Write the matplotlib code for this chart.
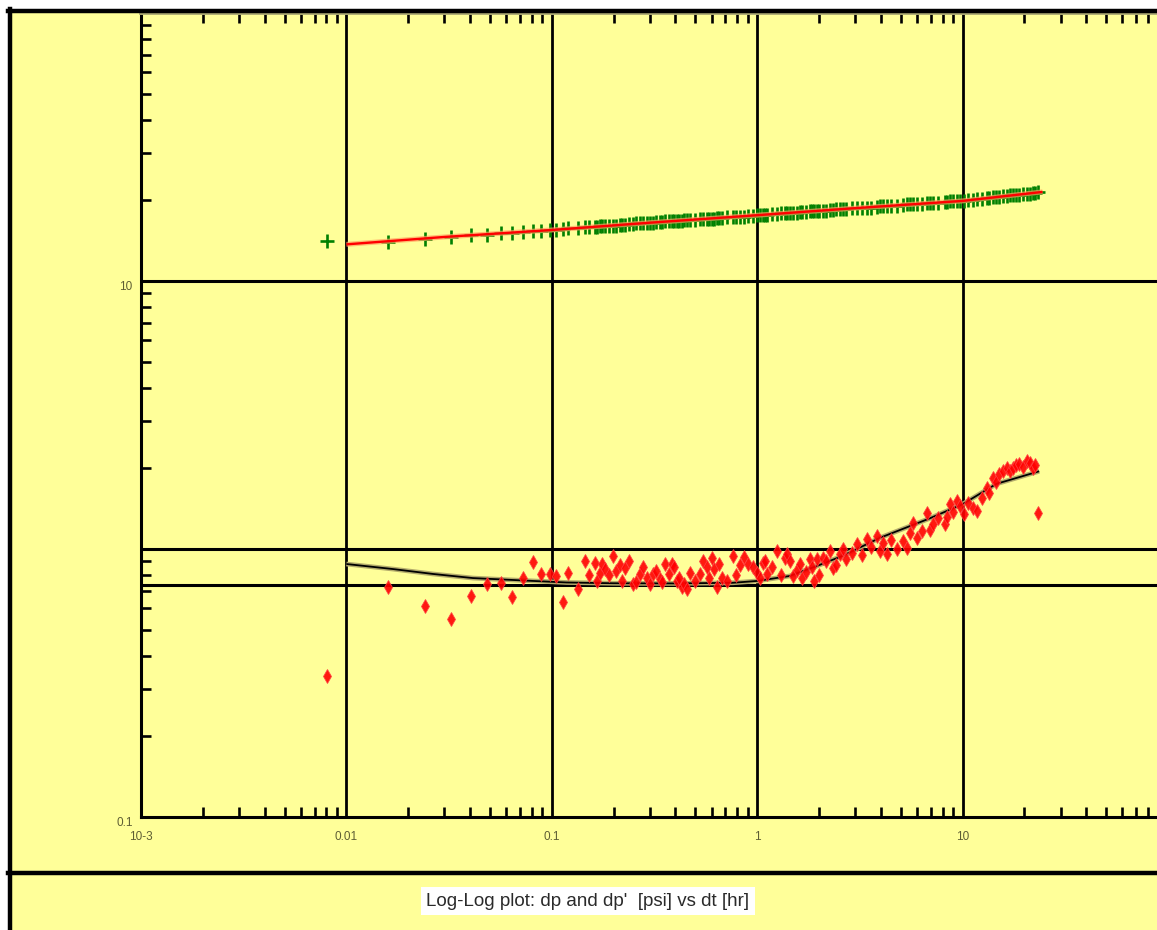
import matplotlib
matplotlib.use("Agg")
import matplotlib.pyplot as plt
from matplotlib.lines import Line2D
from matplotlib.patches import Rectangle
from matplotlib.ticker import NullFormatter

# ---- data -------------------------------------------------------------
# elapsed time dt [hr] shared by the pressure change and its derivative
dt = [0.00804, 0.0159, 0.0241, 0.0323, 0.0404, 0.0483, 0.0565, 0.0638, 0.0723,
      0.0809, 0.0883, 0.0977, 0.1045, 0.113, 0.120, 0.134, 0.145, 0.152, 0.162,
      0.166, 0.171, 0.176, 0.181, 0.190, 0.198, 0.205, 0.214, 0.220, 0.226,
      0.237, 0.248, 0.258, 0.268, 0.279, 0.290, 0.300, 0.310, 0.322, 0.336,
      0.345, 0.355, 0.370, 0.384, 0.395, 0.406, 0.418, 0.429, 0.442, 0.454,
      0.470, 0.496, 0.525, 0.545, 0.568, 0.585, 0.601, 0.618, 0.636, 0.655,
      0.671, 0.715, 0.760, 0.790, 0.822, 0.860, 0.900, 0.950, 0.995, 1.03,
      1.064, 1.09, 1.112, 1.18, 1.244, 1.30, 1.36, 1.40, 1.44, 1.50, 1.56,
      1.61, 1.66, 1.73, 1.80, 1.85, 1.90, 1.95, 2.01, 2.08, 2.16, 2.25, 2.33,
      2.42, 2.52, 2.61, 2.72, 2.90, 3.05, 3.23, 3.41, 3.60, 3.82, 3.95, 4.10,
      4.27, 4.50, 4.80, 5.11, 5.34, 5.55, 5.71, 6.00, 6.31, 6.68, 6.95, 7.15,
      7.60, 8.17, 8.40, 8.65, 9.00, 9.35, 9.70, 10.2, 10.6, 11.2, 11.7, 12.4,
      13.1, 13.5, 14.0, 14.5, 15.1, 15.7, 16.4, 17.0, 17.5, 18.2, 18.9, 19.6,
      20.5, 21.2, 21.9, 22.5, 23.2]

# pressure change dp [psi]
dp = [14.1, 14.0, 14.4, 14.6, 14.8, 14.9, 15.1, 15.1, 15.2,
      15.4, 15.4, 15.5, 15.5, 15.6, 15.7, 15.7, 15.9, 15.9, 15.9,
      15.9, 16.0, 16.0, 16.0, 16.1, 16.1, 16.1, 16.2, 16.2, 16.2,
      16.3, 16.3, 16.4, 16.4, 16.4, 16.5, 16.5, 16.5, 16.6, 16.6,
      16.6, 16.7, 16.7, 16.7, 16.8, 16.8, 16.8, 16.8, 16.9, 16.9,
      16.9, 16.9, 17.0, 17.0, 17.1, 17.1, 17.1, 17.1, 17.2, 17.2,
      17.2, 17.3, 17.3, 17.4, 17.4, 17.4, 17.5, 17.5, 17.6, 17.6,
      17.7, 17.7, 17.7, 17.8, 17.8, 17.9, 17.9, 17.9, 18.0, 18.0, 18.0,
      18.1, 18.1, 18.1, 18.2, 18.2, 18.2, 18.3, 18.3, 18.3, 18.3, 18.4, 18.4,
      18.5, 18.5, 18.6, 18.6, 18.7, 18.7, 18.8, 18.8, 18.8, 18.9, 19.0, 19.0,
      19.0, 19.1, 19.1, 19.2, 19.3, 19.3, 19.3, 19.4, 19.4, 19.5, 19.5, 19.6,
      19.6, 19.7, 19.7, 19.8, 19.8, 19.8, 19.9, 19.9, 20.0, 20.1, 20.2, 20.3,
      20.4, 20.4, 20.5, 20.5, 20.6, 20.7, 20.8, 20.9, 20.9, 21.0, 21.0, 21.1,
      21.2, 21.2, 21.3, 21.3, 21.4]

# pressure derivative dp' [psi]
dpd = [0.336, 0.722, 0.613, 0.548, 0.668, 0.740, 0.746, 0.662, 0.779,
       0.894, 0.807, 0.807, 0.793, 0.634, 0.814, 0.709, 0.902, 0.80, 0.887,
       0.76, 0.814, 0.88, 0.842, 0.80, 0.942, 0.83, 0.872, 0.76, 0.849,
       0.90, 0.740, 0.75, 0.807, 0.86, 0.779, 0.74, 0.807, 0.83, 0.773,
       0.75, 0.879, 0.81, 0.879, 0.86, 0.760, 0.78, 0.722, 0.74, 0.709,
       0.814, 0.76, 0.807, 0.90, 0.857, 0.78, 0.926, 0.84, 0.722, 0.88,
       0.779, 0.76, 0.942, 0.80, 0.872, 0.93, 0.879, 0.86, 0.814, 0.78,
       0.887, 0.90, 0.807, 0.86, 0.983, 0.80, 0.926, 0.96, 0.902, 0.79, 0.835,
       0.88, 0.779, 0.82, 0.918, 0.86, 0.760, 0.918, 0.80, 0.926, 0.90, 0.983, 0.849,
       0.87, 0.958, 1.00, 0.92, 0.97, 1.044, 0.95, 1.09, 1.02, 1.118, 0.983, 1.05,
       0.958, 1.08, 1.00, 1.071, 1.009, 1.15, 1.25, 1.10, 1.167, 1.36, 1.18, 1.24,
       1.30, 1.24, 1.32, 1.47, 1.38, 1.51, 1.45, 1.35, 1.48, 1.42, 1.39, 1.55,
       1.69, 1.62, 1.84, 1.78, 1.90, 1.95, 2.01, 1.96, 2.01, 2.05, 2.08, 2.02,
       2.13, 2.10, 2.01, 2.06, 1.36]

# model response
model_dt = [0.01, 0.03, 0.1, 0.3, 1.0, 3.0, 10.0, 24.5]
model_dp = [13.7, 14.6, 15.5, 16.5, 17.6, 18.7, 19.9, 21.5]

model_der_dt = [0.01, 0.0168, 0.0264, 0.0413, 0.081, 0.118, 0.2, 0.4, 0.76,
                1.0, 1.44, 1.95, 2.6, 3.95, 6.9, 10.0, 14.6, 23.6]
model_der = [0.879, 0.842, 0.807, 0.779, 0.760, 0.750, 0.745, 0.744, 0.748,
             0.760, 0.793, 0.864, 0.942, 1.10, 1.30, 1.47, 1.75, 1.95]

# radial-flow stabilisation level of the derivative
stabilisation = 0.734

x_ticks = [1e-3, 0.01, 0.1, 1, 10]
x_labels = ["10-3", "0.01", "0.1", "1", "10"]
y_ticks = [0.1, 1, 10]
y_labels = ["0.1", "", "10"]
x_grid = [0.01, 0.1, 1, 10]
y_grid = [1, 10]

caption = "Log-Log plot: dp and dp'  [psi] vs dt [hr]"

# ---- figure -----------------------------------------------------------
W, H = 1157, 930
YELLOW = "#ffff99"
narrow = ["Liberation Sans Narrow", "Liberation Sans", "DejaVu Sans"]

fig = plt.figure(figsize=(W / 100, H / 100), dpi=100)
fig.patch.set_facecolor("white")


def fx(px):
    return px / W


def fy(py):
    return 1 - py / H


# panel background and frame
fig.add_artist(Rectangle((fx(10), 0), 1, fy(11), transform=fig.transFigure,
                         facecolor=YELLOW, edgecolor="none", zorder=0))
frame_lw = 3.2
fig.add_artist(Line2D([fx(9.5), fx(9.5)], [0, fy(9)], transform=fig.transFigure,
                      color="black", lw=frame_lw, zorder=5))
fig.add_artist(Line2D([fx(8), 1], [fy(11), fy(11)], transform=fig.transFigure,
                      color="black", lw=frame_lw, zorder=5))
fig.add_artist(Line2D([fx(8), 1], [fy(873), fy(873)], transform=fig.transFigure,
                      color="black", lw=frame_lw, zorder=5))

ax = fig.add_axes([fx(141), fy(817), (1168 - 141) / W, (817 - 13) / H])
ax.set_facecolor(YELLOW)
ax.set_xscale("log")
ax.set_yscale("log")
ax.set_xlim(1e-3, 100)
ax.set_ylim(0.1, 100)

# grid
for x in x_grid:
    ax.axvline(x, color="black", lw=2.0, zorder=1)
for y in y_grid:
    ax.axhline(y, color="black", lw=2.2, zorder=1)
ax.axhline(stabilisation, color="black", lw=2.2, zorder=1)

# pressure change: data and model
ax.plot(dt, dp, linestyle="none", marker="+", markersize=10, mew=1.9,
        color="#008000", zorder=3)
ax.plot(model_dt, model_dp, color="#ffa060", lw=3.6, alpha=0.7, zorder=4,
        solid_capstyle="butt")
ax.plot(model_dt, model_dp, color="#ff0000", lw=1.7, zorder=4,
        solid_capstyle="butt")

# derivative: model and data
ax.plot(model_der_dt, model_der, color="#b4ac6c", lw=3.4, zorder=3,
        solid_capstyle="butt")
ax.plot(model_der_dt, model_der, color="black", lw=1.3, zorder=3,
        solid_capstyle="butt")
ax.plot(dt, dpd, linestyle="none", marker="d", markersize=7,
        color="#ff0000", mec="#ff4040", mew=0.6, alpha=0.9, zorder=4)

# spines and ticks
for side in ("left", "bottom"):
    ax.spines[side].set_linewidth(2.2)
    ax.spines[side].set_color("black")
ax.spines["top"].set_color("#aeac74")
ax.spines["top"].set_linewidth(2.8)
ax.spines["right"].set_visible(False)

ax.set_xticks(x_ticks)
ax.set_xticklabels(x_labels)
ax.set_yticks(y_ticks)
ax.set_yticklabels(y_labels)
ax.tick_params(which="both", direction="in", top=True, right=False,
               color="black", width=1.9)
ax.tick_params(which="major", length=0)
ax.tick_params(which="minor", length=7.5)
ax.tick_params(axis="x", which="major", pad=10, labelsize=8.5,
               labelcolor="#5e5e34")
ax.tick_params(axis="y", which="major", pad=6, labelsize=8.5,
               labelcolor="#5e5e34")
for lab in ax.get_xticklabels() + ax.get_yticklabels():
    lab.set_family(narrow)
for lab in ax.get_yticklabels():
    lab.set_va("top")
ax.yaxis.set_minor_formatter(NullFormatter())
ax.xaxis.set_minor_formatter(NullFormatter())

# caption
fig.text(fx(588), fy(901), caption, ha="center", va="center",
         fontsize=13.5, family=narrow, color="#2a2a2a",
         bbox=dict(facecolor="white", edgecolor="none", pad=4))

fig.savefig("out.png", dpi=100)
